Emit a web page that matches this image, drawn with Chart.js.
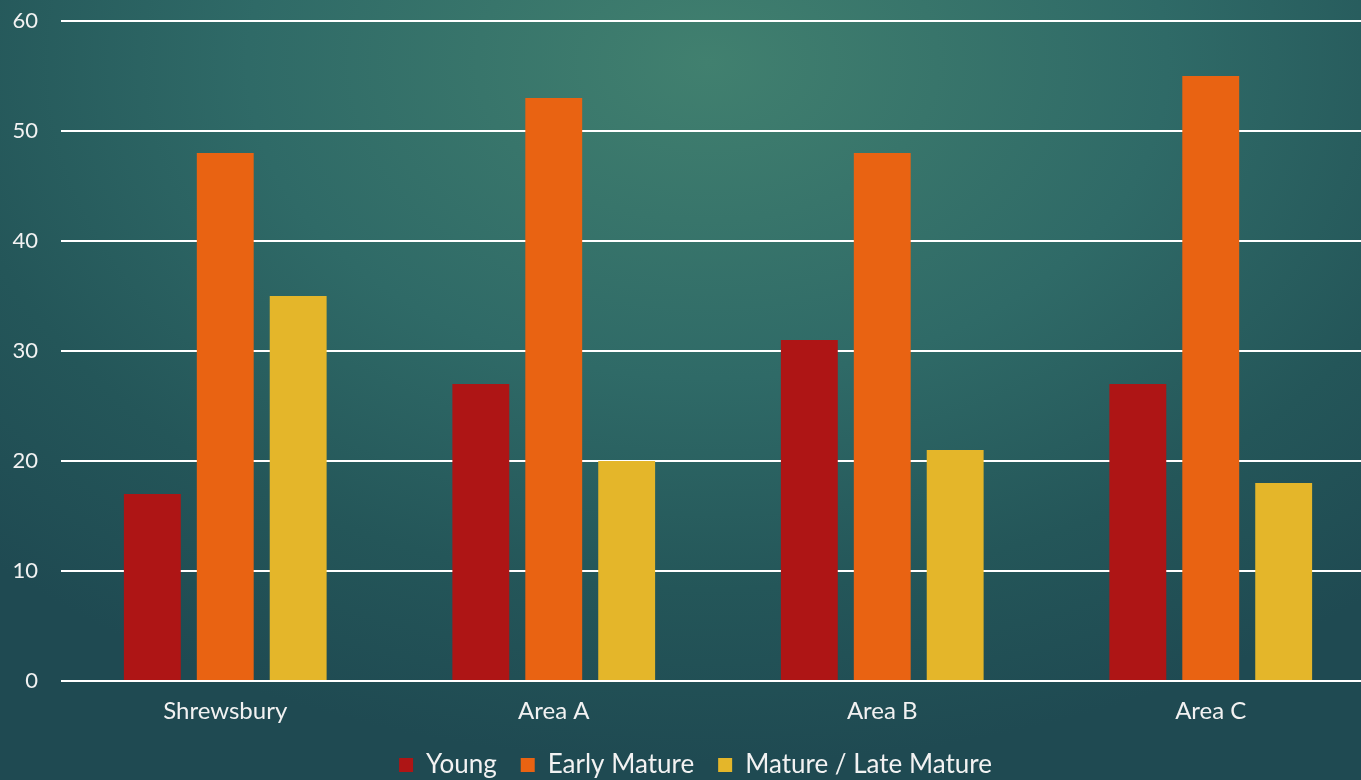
<!DOCTYPE html>
<html>
<head>
<meta charset="utf-8">
<script src="https://cdn.jsdelivr.net/npm/chart.js@4"></script>
<style>
  html, body { margin: 0; padding: 0; }
  body {
    width: 1361px; height: 780px; overflow: hidden;
    background: radial-gradient(ellipse 75% 90% at 52% 8%, #41806f 0%, #2f6a67 45%, #245659 75%, #1f4a52 100%);
  }
  #wrap { position: relative; width: 1361px; height: 780px; }
</style>
</head>
<body>
<div id="wrap"><canvas id="chart"></canvas></div>
<script>
// Dados do gráfico
const categories = ["Shrewsbury", "Area A", "Area B", "Area C"];
const young = [17, 27, 31, 27];
const earlyMature = [48, 53, 48, 55];
const lateMature = [35, 20, 21, 18];
const seriesNames = ["Young", "Early Mature", "Mature / Late Mature"];
const seriesColors = ["#ae1515", "#e96312", "#e4b62a"];

const fontFamily = "'Lato', 'Open Sans', sans-serif";
const textColor = "#f2f2f2";

// Ajustes finos de layout: a área do gráfico passa um pouco da borda direita
// e a legenda fica um pouco à direita do centro, como no original
const layoutTweak = {
  id: "layoutTweak",
  afterLayout(chart) {
    chart.legend.left += 15;
    chart.legend.right += 15;
    const x = chart.scales.x;
    x.right += 14;
    x.width += 14;
    x.configure();
    chart.chartArea.right += 14;
    chart.chartArea.width += 14;
  },
};

const ctx = document.getElementById("chart");

new Chart(ctx, {
  type: "bar",
  plugins: [layoutTweak],
  data: {
    labels: categories,
    datasets: [young, earlyMature, lateMature].map((vals, i) => ({
      label: seriesNames[i],
      data: vals,
      backgroundColor: seriesColors[i],
      borderWidth: 0,
      categoryPercentage: 0.666,
      barPercentage: 0.78,
    })),
  },
  options: {
    responsive: true,
    maintainAspectRatio: false,
    animation: false,
    layout: { padding: { top: 21, right: 0, bottom: -8, left: 0 } },
    scales: {
      x: {
        grid: { display: false, drawTicks: false },
        border: { display: false },
        ticks: { color: textColor, font: { family: fontFamily, size: 24 }, padding: 16 },
        afterFit: (scale) => { scale.height = 47; },
      },
      y: {
        min: 0,
        max: 60,
        ticks: { stepSize: 10, color: textColor, font: { family: fontFamily, size: 22 }, padding: 23 },
        grid: { color: "#ffffff", lineWidth: 2, drawTicks: false },
        border: { display: false },
        afterFit: (scale) => {
          scale.width = 61;
          scale.paddingTop = 0;
          scale.paddingBottom = 0;
        },
      },
    },
    plugins: {
      tooltip: { enabled: false },
      legend: {
        position: "bottom",
        labels: {
          color: textColor,
          font: { family: fontFamily, size: 26 },
          boxWidth: 14,
          boxHeight: 14,
          padding: 24,
          useBorderRadius: false,
        },
      },
    },
  },
});
</script>
</body>
</html>
